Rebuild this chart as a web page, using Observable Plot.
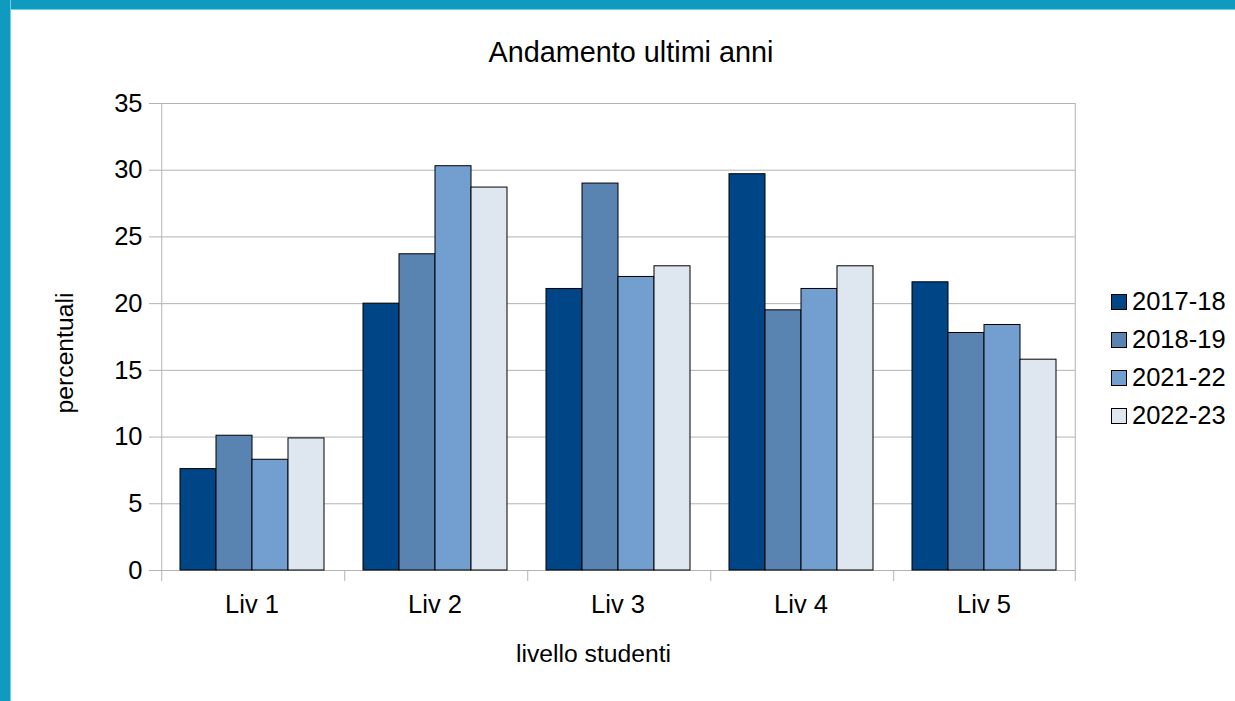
<!DOCTYPE html>
<html>
<head>
<meta charset="utf-8">
<script src="https://cdn.jsdelivr.net/npm/d3@7"></script>
<script src="https://cdn.jsdelivr.net/npm/@observablehq/plot@0.6"></script>
<style>
  html, body { margin: 0; padding: 0; background: #fff; }
  body { width: 1235px; height: 701px; position: relative; overflow: hidden; font-family: "Liberation Sans", Arial, sans-serif; }
  .bar-top { position: absolute; left: 0; top: 0; width: 1235px; height: 9px; background: #0f9bbf; border-bottom: 1px solid #6fd0e8; }
  .bar-left { position: absolute; left: 0; top: 0; width: 10px; height: 701px; background: #0f9bbf; border-right: 1px solid #6fd0e8; }
  #chart { position: absolute; left: 0; top: 0; }
  .title { position: absolute; left: 0; width: 1262px; top: 37.6px; text-align: center; font-size: 28.8px; line-height: 28.8px; color: #000; }
  .xlabel { position: absolute; left: 0; width: 1187px; top: 642px; text-align: center; font-size: 24.7px; line-height: 24.7px; color: #000; }
  .ylabel { position: absolute; left: 65px; top: 352.5px; transform: translate(-50%, -50%) rotate(-90deg); font-size: 24.7px; line-height: 24.7px; white-space: nowrap; color: #000; }
  .legend { position: absolute; left: 1111px; top: 0; }
  .legend .row { position: absolute; left: 0; height: 25.5px; display: flex; align-items: center; white-space: nowrap; font-size: 25.5px; line-height: 25.5px; }
  .legend .sw { width: 16px; height: 16px; box-sizing: border-box; border: 1px solid #000; margin-right: 5px; }
</style>
</head>
<body>
<div class="bar-top"></div>
<div class="bar-left"></div>
<div id="chart"></div>
<div class="title">Andamento ultimi anni</div>
<div class="xlabel">livello studenti</div>
<div class="ylabel">percentuali</div>
<div class="legend" id="legend"></div>
<script>
// ---- data ----
const categories = ["Liv 1", "Liv 2", "Liv 3", "Liv 4", "Liv 5"];
const series = ["2017-18", "2018-19", "2021-22", "2022-23"];
const values2017_18 = [7.6, 20.0, 21.1, 29.7, 21.6];
const values2018_19 = [10.1, 23.7, 29.0, 19.5, 17.8];
const values2021_22 = [8.3, 30.3, 22.0, 21.1, 18.4];
const values2022_23 = [9.9, 28.7, 22.8, 22.8, 15.8];
const yTicks = [0, 5, 10, 15, 20, 25, 30, 35];
const seriesColors = ["#004586", "#5983b0", "#729fcf", "#dee6ef"];

const seriesValues = [values2017_18, values2018_19, values2021_22, values2022_23];
const table = [];
categories.forEach((c, i) => {
  series.forEach((s, j) => table.push({category: c, series: s, value: seriesValues[j][i]}));
});

// ---- layout ----
const W = 1235, H = 701;
const mL = 158, mR = 158, mT = 103, mB = 131;
const facetW = (W - mL - mR) / categories.length;
const step = facetW / (series.length + 1);
const grey = "#b3b3b3";
const fs = 25.5;

const leftEdge = [{category: categories[0]}];
const innerEdges = categories.slice(1).map(c => ({category: c}));
const rightEdge = [{category: categories[categories.length - 1]}];

const chart = Plot.plot({
  width: W,
  height: H,
  marginLeft: mL,
  marginRight: mR,
  marginTop: mT,
  marginBottom: mB,
  style: {fontFamily: "'Liberation Sans', Arial, sans-serif", fontSize: fs + "px", background: "transparent", color: "#000", overflow: "visible"},
  fx: {domain: categories, padding: 0, label: null},
  x: {domain: series, paddingInner: 0, paddingOuter: 0.5, axis: null},
  y: {domain: [0, 35], label: null},
  color: {domain: series, range: seriesColors},
  marks: [
    Plot.gridY(yTicks, {stroke: grey, strokeOpacity: 1, strokeWidth: 1}),
    Plot.axisY({ticks: yTicks, tickSize: 11, tickPadding: 7, stroke: grey, strokeOpacity: 1, fill: "#000", label: null, fontSize: fs}),
    Plot.axisFx({anchor: "bottom", tickSize: 0, tickPadding: 24.5, label: null, fill: "#000", fontSize: fs}),
    Plot.ruleX(leftEdge, {fx: "category", x: () => series[0], dx: -step, stroke: grey, insetBottom: -11}),
    Plot.ruleX(rightEdge, {fx: "category", x: () => series[series.length - 1], dx: step, stroke: grey, insetBottom: -11}),
    Plot.ruleX(innerEdges, {fx: "category", x: () => series[0], dx: -step, y1: 0, y2: 0, stroke: grey, insetBottom: -11}),
    Plot.barY(table, {fx: "category", x: "series", y: "value", fill: "series", stroke: "#000", strokeWidth: 1})
  ]
});
document.getElementById("chart").appendChild(chart);

// ---- legend ----
const legend = document.getElementById("legend");
const rowCenters = series.map((s, i) => 301.5 + i * 38);
series.forEach((s, i) => {
  const row = document.createElement("div");
  row.className = "row";
  row.style.top = (rowCenters[i] - fs / 2) + "px";
  const sw = document.createElement("div");
  sw.className = "sw";
  sw.style.background = seriesColors[i];
  const t = document.createElement("span");
  t.textContent = s;
  row.appendChild(sw);
  row.appendChild(t);
  legend.appendChild(row);
});
</script>
</body>
</html>
